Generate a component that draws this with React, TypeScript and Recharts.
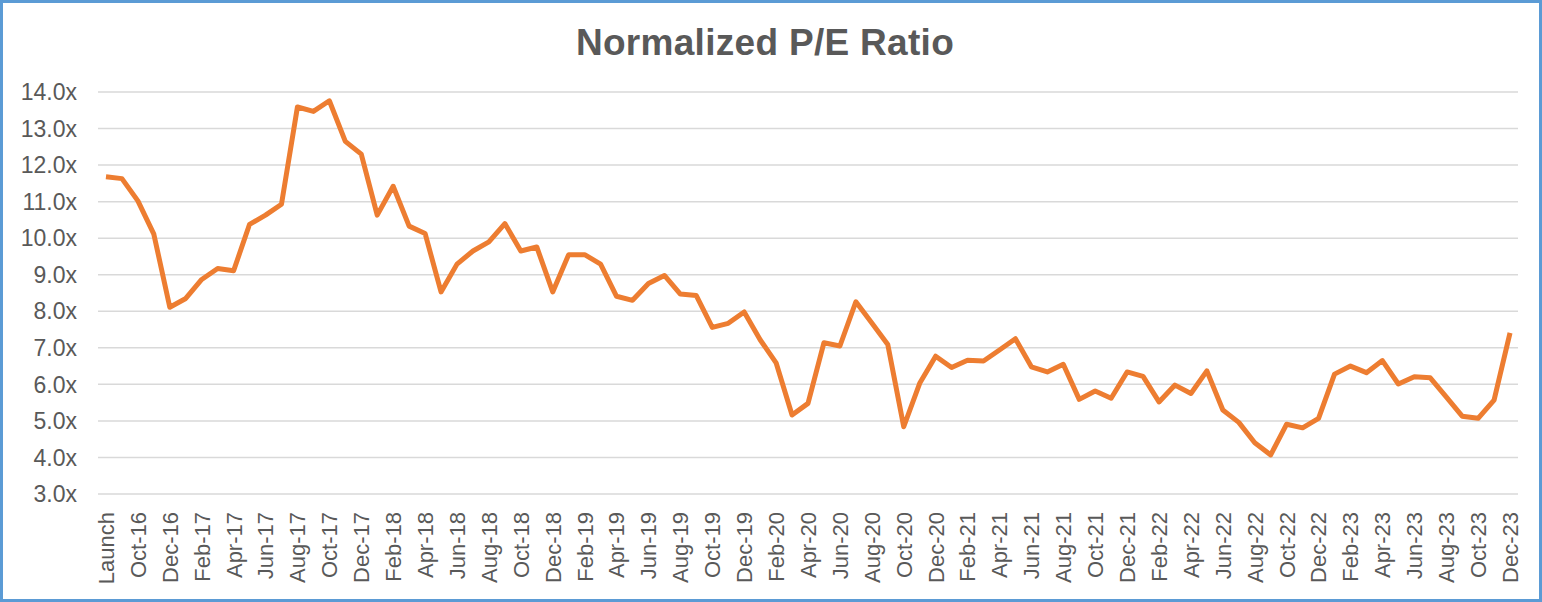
import { LineChart, Line, XAxis, YAxis, CartesianGrid } from 'recharts'

const months: string[] = [
  'Launch', 'Sep-16', 'Oct-16', 'Nov-16', 'Dec-16',
  'Jan-17', 'Feb-17', 'Mar-17', 'Apr-17', 'May-17', 'Jun-17', 'Jul-17', 'Aug-17', 'Sep-17', 'Oct-17', 'Nov-17', 'Dec-17',
  'Jan-18', 'Feb-18', 'Mar-18', 'Apr-18', 'May-18', 'Jun-18', 'Jul-18', 'Aug-18', 'Sep-18', 'Oct-18', 'Nov-18', 'Dec-18',
  'Jan-19', 'Feb-19', 'Mar-19', 'Apr-19', 'May-19', 'Jun-19', 'Jul-19', 'Aug-19', 'Sep-19', 'Oct-19', 'Nov-19', 'Dec-19',
  'Jan-20', 'Feb-20', 'Mar-20', 'Apr-20', 'May-20', 'Jun-20', 'Jul-20', 'Aug-20', 'Sep-20', 'Oct-20', 'Nov-20', 'Dec-20',
  'Jan-21', 'Feb-21', 'Mar-21', 'Apr-21', 'May-21', 'Jun-21', 'Jul-21', 'Aug-21', 'Sep-21', 'Oct-21', 'Nov-21', 'Dec-21',
  'Jan-22', 'Feb-22', 'Mar-22', 'Apr-22', 'May-22', 'Jun-22', 'Jul-22', 'Aug-22', 'Sep-22', 'Oct-22', 'Nov-22', 'Dec-22',
  'Jan-23', 'Feb-23', 'Mar-23', 'Apr-23', 'May-23', 'Jun-23', 'Jul-23', 'Aug-23', 'Sep-23', 'Oct-23', 'Nov-23', 'Dec-23',
]

const peRatio: number[] = [
  11.68, 11.63, 11.02, 10.11, 8.11,
  8.35, 8.87, 9.17, 9.11, 10.38, 10.63, 10.93, 13.59, 13.47, 13.76, 12.65, 12.3,
  10.63, 11.42, 10.33, 10.13, 8.53, 9.29, 9.65, 9.9, 10.4, 9.65, 9.76, 8.53,
  9.55, 9.55, 9.29, 8.41, 8.3, 8.76, 8.98, 8.47, 8.43, 7.56, 7.67, 7.98,
  7.22, 6.59, 5.16, 5.48, 7.14, 7.05, 8.26, 7.68, 7.09, 4.84, 6.03, 6.77,
  6.46, 6.66, 6.64, 6.94, 7.25, 6.48, 6.34, 6.55, 5.59, 5.82, 5.62, 6.34,
  6.22, 5.52, 5.98, 5.75, 6.37, 5.3, 4.96, 4.4, 4.07, 4.91, 4.81, 5.07,
  6.28, 6.5, 6.32, 6.65, 6.01, 6.21, 6.18, 5.66, 5.13, 5.07, 5.57, 7.41,
]

const yTicks = [3, 4, 5, 6, 7, 8, 9, 10, 11, 12, 13, 14]

const data = months.map((month, i) => ({ month, pe: peRatio[i] }))

const labelColor = '#595959'
const font = '"Liberation Sans", Arial, sans-serif'

const MonthTick = ({ x, y, payload }: { x?: number; y?: number; payload?: { value: string } }) => (
  <g transform={`translate(${x},${y})`}>
    <text
      x={0}
      y={0}
      dy="0.36em"
      textAnchor="end"
      transform="rotate(-90)"
      fill={labelColor}
      fontSize={22}
      fontFamily={font}
    >
      {payload?.value}
    </text>
  </g>
)

export default function App() {
  return (
    <div
      style={{
        position: 'absolute',
        left: 0,
        top: 0,
        width: 1542,
        height: 602,
        boxSizing: 'border-box',
        border: '3px solid #5B9BD5',
        background: '#fff',
      }}
    >
      <style>{'body{margin:0}'}</style>
      <div
        style={{
          position: 'absolute',
          left: 0,
          width: 1524,
          top: 19,
          textAlign: 'center',
          fontFamily: font,
          fontWeight: 'bold',
          fontSize: 37,
          letterSpacing: 0.3,
          color: labelColor,
        }}
      >
        Normalized P/E Ratio
      </div>
      <LineChart
        width={1536}
        height={596}
        data={data}
        margin={{ top: 89, right: 21, left: 0, bottom: 5 }}
      >
        <CartesianGrid vertical={false} stroke="#D9D9D9" strokeWidth={1.5} />
        <XAxis
          dataKey="month"
          scale="band"
          interval={1}
          axisLine={false}
          tickLine={false}
          height={100}
          tick={<MonthTick />}
          tickMargin={12}
        />
        <YAxis
          domain={[3, 14]}
          ticks={yTicks}
          width={95}
          axisLine={false}
          tickLine={false}
          tickMargin={15}
          tickFormatter={(v: number) => `${v.toFixed(1)}x`}
          tick={{ fill: labelColor, fontSize: 23, fontFamily: font }}
        />
        <Line
          type="linear"
          dataKey="pe"
          stroke="#ED7D31"
          strokeWidth={5}
          strokeLinejoin="round"
          dot={false}
          isAnimationActive={false}
        />
      </LineChart>
    </div>
  )
}
